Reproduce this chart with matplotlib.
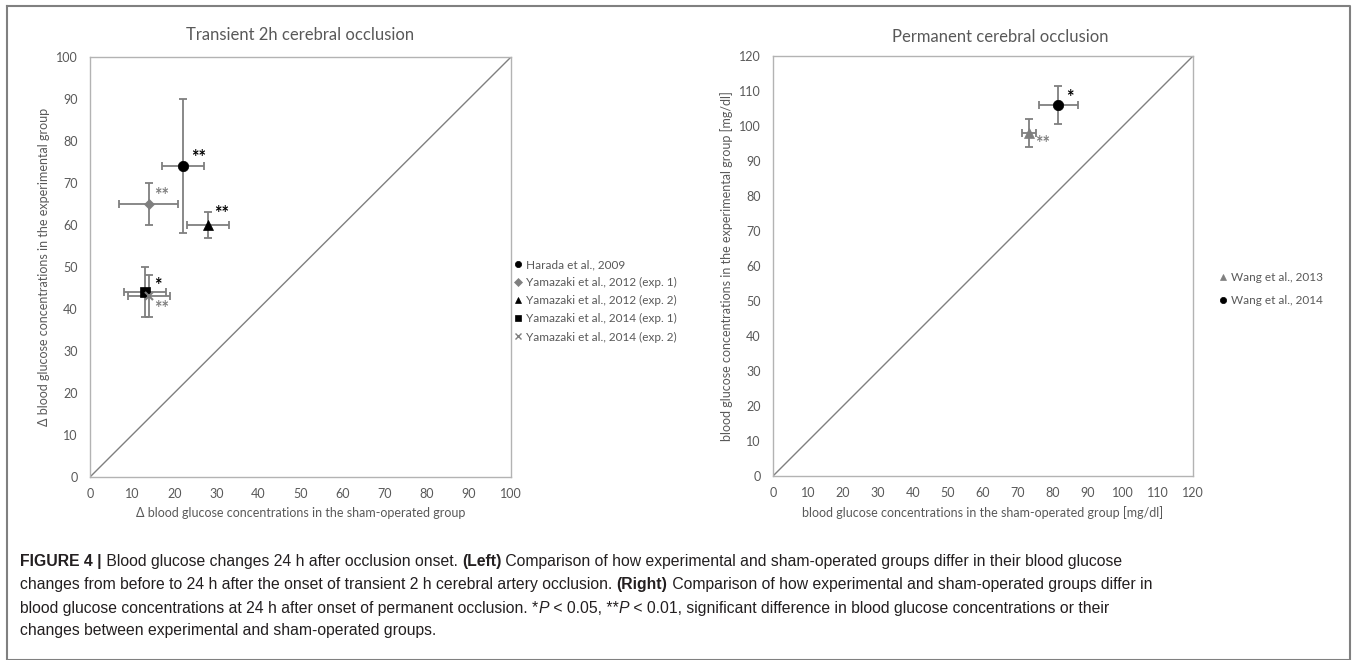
import matplotlib
matplotlib.use('Agg')
import matplotlib.pyplot as plt
from matplotlib.lines import Line2D
from matplotlib.font_manager import FontProperties
from matplotlib.transforms import IdentityTransform

# transient 2h occlusion (left panel)
trans_names = ['Harada et al., 2009', 'Yamazaki et al., 2012 (exp. 1)',
               'Yamazaki et al., 2012 (exp. 2)', 'Yamazaki et al., 2014 (exp. 1)',
               'Yamazaki et al., 2014 (exp. 2)']
trans_sham = [22, 14, 28, 13, 14]
trans_sham_err = [5, 7, 5, 5, 5]
trans_exp = [74, 65, 60, 44, 43]
trans_exp_err = [16, 5, 3, 6, 5]
trans_sig = ['**', '**', '**', '*', '**']

# permanent occlusion (right panel)
perm_names = ['Wang et al., 2013', 'Wang et al., 2014']
perm_sham = [73, 81.5]
perm_sham_err = [2, 5.5]
perm_exp = [98, 106]
perm_exp_err = [4, 5.5]
perm_sig = ['**', '*']

left_ticks = list(range(0, 101, 10))
right_ticks = list(range(0, 121, 10))

W, H = 1357, 660
GRAY = '#7f7f7f'
TXT = '#595959'
CHART_FONT = ['Lato', 'DejaVu Sans']
CAP_FONT = ['Liberation Sans Narrow', 'Liberation Sans']

plt.rcParams['font.family'] = CHART_FONT

fig = plt.figure(figsize=(W / 100, H / 100), dpi=100)


def px_axes(x0, x1, ytop, ybot):
    return fig.add_axes([x0 / W, 1 - ybot / H, (x1 - x0) / W, (ybot - ytop) / H])


def style_axes(ax, ticks):
    ax.set_xlim(ticks[0], ticks[-1])
    ax.set_ylim(ticks[0], ticks[-1])
    ax.set_xticks(ticks)
    ax.set_yticks(ticks)
    for sp in ax.spines.values():
        sp.set_color('#b3b3b3')
        sp.set_linewidth(1.0)
    ax.tick_params(length=0, labelsize=9, labelcolor=TXT)
    ax.tick_params(axis='y', pad=9)
    ax.tick_params(axis='x', pad=8)
    ax.plot([ticks[0], ticks[-1]], [ticks[0], ticks[-1]], color=GRAY, lw=1.0, zorder=1)


# ---- left panel
axl = px_axes(90, 511, 57, 477)
style_axes(axl, left_ticks)
t_marks = ['o', 'D', '^', 's', 'x']
t_cols = ['black', GRAY, 'black', 'black', GRAY]
t_size = [7.5, 5, 7.5, 7, 6]
t_off = [(9, 9), (5, 9), (6, 12), (9, 7), (5, -12)]
handles = []
for i in range(len(trans_names)):
    axl.errorbar(trans_sham[i], trans_exp[i], xerr=trans_sham_err[i], yerr=trans_exp_err[i],
                 fmt='none', ecolor=GRAY, elinewidth=1.3, capsize=3, capthick=1.3, zorder=2)
    axl.plot(trans_sham[i], trans_exp[i], marker=t_marks[i], color=t_cols[i],
             markersize=t_size[i], mew=1.5 if t_marks[i] == 'x' else 0.5, ls='none', zorder=3)
    axl.annotate(trans_sig[i], (trans_sham[i], trans_exp[i]), xytext=t_off[i],
                 textcoords='offset pixels', ha='left', va='center',
                 fontsize=13, fontweight='bold', color=t_cols[i])
    handles.append(Line2D([], [], marker=t_marks[i], color=t_cols[i], ls='none',
                          markersize=4.5 if t_marks[i] != 'x' else 4, mew=1 if t_marks[i] == 'x' else 0.5,
                          label=trans_names[i]))
axl.legend(handles=handles, loc='upper left', bbox_to_anchor=(514 / W, 1 - 259 / H),
           bbox_transform=fig.transFigure, frameon=False, fontsize=8.5, labelcolor=TXT,
           handlelength=0.6, handletextpad=0.4, labelspacing=0.6, borderpad=0, borderaxespad=0)
axl.set_xlabel('Δ blood glucose concentrations in the sham-operated group', fontsize=9,
               color=TXT, labelpad=5)
axl.set_ylabel('Δ blood glucose concentrations in the experimental group', fontsize=9,
               color=TXT)
axl.yaxis.set_label_coords(-40 / 421, 0.5)
fig.text(300 / W, 1 - 35 / H, 'Transient 2h cerebral occlusion', ha='center', va='center',
         fontsize=12, color=TXT)

# ---- right panel
axr = px_axes(773, 1193, 56, 476)
style_axes(axr, right_ticks)
p_marks = ['^', 'o']
p_cols = [GRAY, 'black']
p_off = [(7, -10), (8, 7)]
handles = []
for i in range(len(perm_names)):
    axr.errorbar(perm_sham[i], perm_exp[i], xerr=perm_sham_err[i], yerr=perm_exp_err[i],
                 fmt='none', ecolor=GRAY, elinewidth=1.3, capsize=3, capthick=1.3, zorder=2)
    axr.plot(perm_sham[i], perm_exp[i], marker=p_marks[i], color=p_cols[i],
             markersize=7.5, mew=0.5, ls='none', zorder=3)
    axr.annotate(perm_sig[i], (perm_sham[i], perm_exp[i]), xytext=p_off[i],
                 textcoords='offset pixels', ha='left', va='center',
                 fontsize=13, fontweight='bold', color=p_cols[i])
    handles.append(Line2D([], [], marker=p_marks[i], color=p_cols[i], ls='none',
                          markersize=4.5, mew=0.5, label=perm_names[i]))
axr.legend(handles=handles, loc='upper left', bbox_to_anchor=(1219 / W, 1 - 272 / H),
           bbox_transform=fig.transFigure, frameon=False, fontsize=8.5, labelcolor=TXT,
           handlelength=0.6, handletextpad=0.4, labelspacing=1.05, borderpad=0, borderaxespad=0)
axr.set_xlabel('blood glucose concentrations in the sham-operated group [mg/dl]', fontsize=9,
               color=TXT, labelpad=5)
axr.set_ylabel('blood glucose concentrations in the experimental group [mg/dl]', fontsize=9,
               color=TXT)
axr.yaxis.set_label_coords(-40 / 420, 0.5)
fig.text(1000 / W, 1 - 37 / H, 'Permanent cerebral occlusion', ha='center', va='center',
         fontsize=12, color=TXT)

# ---- outer frame
fx = [7 / W, 1350 / W, 1350 / W, 7 / W, 7 / W]
fy = [1 - 6 / H, 1 - 6 / H, 0, 0, 1 - 6 / H]
fig.add_artist(Line2D(fx, fy, transform=fig.transFigure, color='#808080', lw=1.5))

# ---- caption
caption = [
    [('FIGURE 4 |', 'bold'), (' Blood glucose changes 24 h after occlusion onset. ', 'normal'),
     ('(Left)', 'bold'),
     (' Comparison of how experimental and sham-operated groups differ in their blood glucose', 'normal')],
    [('changes from before to 24 h after the onset of transient 2 h cerebral artery occlusion. ', 'normal'),
     ('(Right)', 'bold'),
     (' Comparison of how experimental and sham-operated groups differ in', 'normal')],
    [('blood glucose concentrations at 24 h after onset of permanent occlusion. *', 'normal'),
     ('P', 'italic'), (' < 0.05, **', 'normal'), ('P', 'italic'),
     (' < 0.01, significant difference in blood glucose concentrations or their', 'normal')],
    [('changes between experimental and sham-operated groups.', 'normal')],
]
baselines = [566, 589, 613, 635]

renderer = fig.canvas.get_renderer()


def prop_for(style, size):
    if style == 'bold':
        return FontProperties(family=CAP_FONT, weight='bold', size=size)
    if style == 'italic':
        return FontProperties(family=CAP_FONT, style='italic', size=size)
    return FontProperties(family=CAP_FONT, size=size)


def run_width(s, style, size):
    p = prop_for(style, size)
    w1 = renderer.get_text_width_height_descent('|' + s + '|', p, ismath=False)[0]
    w0 = renderer.get_text_width_height_descent('||', p, ismath=False)[0]
    return w1 - w0


base = 11
w_line1 = sum(run_width(s, st, base) for s, st in caption[0])
cap_size = base * 1102 / w_line1

for line, yb in zip(caption, baselines):
    x = 20
    for s, st in line:
        fig.text(x, H - yb, s, transform=IdentityTransform(), fontproperties=prop_for(st, cap_size),
                 color='#231f20', va='baseline', ha='left')
        x += run_width(s, st, cap_size)

fig.savefig('out.png', dpi=100)
